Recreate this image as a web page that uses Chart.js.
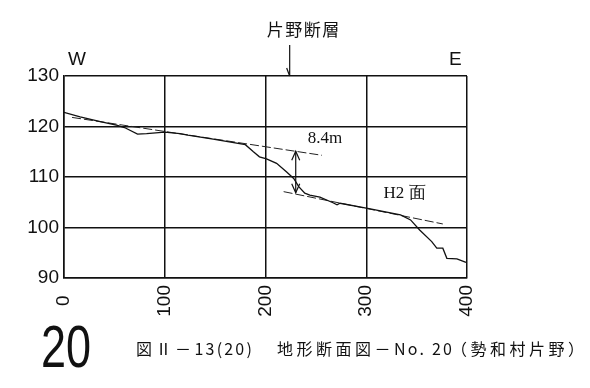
<!DOCTYPE html>
<html>
<head>
<meta charset="utf-8">
<script src="https://cdn.jsdelivr.net/npm/chart.js@4/dist/chart.umd.min.js"></script>
<style>
body { margin: 0; background: #fff; }
#wrap { position: relative; width: 590px; height: 388px; }
canvas { position: absolute; left: 0; top: 0; }
#num { position: absolute; left: 41px; top: 317px; font: 60px "Liberation Sans", sans-serif; color: #111; line-height: 1; transform: scaleX(0.75); transform-origin: left top; }
.cap { position: absolute; top: 338px; font: 16px "Noto Sans CJK JP", sans-serif; letter-spacing: 3.5px; color: #111; white-space: nowrap; line-height: 20px; }
.cap .h { letter-spacing: 2.2px; }
</style>
</head>
<body>
<div id="wrap">
  <canvas id="profileChart" width="590" height="388"></canvas>
  <div id="num">20</div>
  <div class="cap" style="left:136px">図Ⅱ－<span class="h">13(20)</span></div>
  <div class="cap" style="left:277px">地形断面図－<span class="h">No. 20</span></div>
  <div class="cap" style="left:451px">（勢和村片野）</div>
</div>
<script>
// terrain profile (distance m, elevation m)
const distance  = [0, 16, 35, 53, 60, 73, 82, 100, 115, 123, 148, 180, 188, 194, 201, 211, 221, 228, 233, 239, 244, 254, 267, 271, 274, 304, 334, 344, 353, 365, 370, 376, 380, 390, 399];
const elevation = [122.8, 121.9, 121.0, 120.2, 119.8, 118.5, 118.6, 118.9, 118.6, 118.3, 117.5, 116.4, 115.0, 114.0, 113.6, 112.7, 111.0, 109.7, 108.1, 106.8, 106.4, 106.0, 104.9, 104.5, 104.8, 103.7, 102.5, 101.5, 99.5, 97.2, 95.9, 95.9, 93.9, 93.8, 93.1];

// projected surfaces (dashed)
const upperX = [8, 256];
const upperY = [121.8, 114.3];
const lowerX = [218, 376];
const lowerY = [107.1, 100.7];

// 8.4m offset arrow
const offsetX = [230, 230];
const offsetY = [115.1, 106.9];

const faultX = 224;

const xTicks = [0, 100, 200, 300, 400];
const yTicks = [90, 100, 110, 120, 130];

const tickFont = { family: "'Liberation Sans', Arial, sans-serif", size: 19 };

const toPts = (xs, ys) => xs.map((x, i) => ({ x: x, y: ys[i] }));

function arrowHead(ctx, x, y, dir) {
    // open V head, dir = -1 points up, 1 points down
    ctx.beginPath();
    ctx.moveTo(x - 4, y - dir * 9);
    ctx.lineTo(x, y);
    ctx.lineTo(x + 4, y - dir * 9);
    ctx.stroke();
}

const extras = {
    id: "extras",
    afterDatasetsDraw(chart) {
        const ctx = chart.ctx;
        const xs = chart.scales.x, ys = chart.scales.y;
        ctx.save();
        ctx.strokeStyle = "#111";
        ctx.fillStyle = "#111";
        ctx.lineWidth = 1.2;

        // offset arrow heads
        const ax = xs.getPixelForValue(offsetX[0]);
        arrowHead(ctx, ax, ys.getPixelForValue(offsetY[0]), -1);
        arrowHead(ctx, ax, ys.getPixelForValue(offsetY[1]), 1);

        // fault arrow
        const fx = xs.getPixelForValue(faultX);
        const top = chart.chartArea.top;
        ctx.beginPath();
        ctx.moveTo(fx, 45);
        ctx.lineTo(fx, top);
        ctx.stroke();
        ctx.beginPath();
        ctx.moveTo(fx - 3, top - 8);
        ctx.lineTo(fx, top);
        ctx.stroke();

        ctx.font = "17px 'Noto Sans CJK JP', sans-serif";
        ctx.letterSpacing = "1.5px";
        ctx.textAlign = "center";
        ctx.textBaseline = "middle";
        ctx.fillText("片野断層", fx + 14, 30);
        ctx.letterSpacing = "0px";

        ctx.font = "19px 'Liberation Sans', sans-serif";
        ctx.textAlign = "left";
        ctx.fillText("W", chart.chartArea.left + 4, 60);
        ctx.fillText("E", chart.chartArea.right - 18, 60);

        ctx.font = "17px 'Liberation Serif', serif";
        ctx.textAlign = "center";
        ctx.fillText("8.4m", xs.getPixelForValue(259), ys.getPixelForValue(117.7));
        ctx.fillText("H2 面", xs.getPixelForValue(338), ys.getPixelForValue(106.8));
        ctx.restore();
    }
};

new Chart(document.getElementById("profileChart"), {
    type: "line",
    data: {
        datasets: [
            { data: toPts(distance, elevation), borderColor: "#111", borderWidth: 1.3 },
            { data: toPts(upperX, upperY), borderColor: "#222", borderWidth: 1, borderDash: [9, 3] },
            { data: toPts(lowerX, lowerY), borderColor: "#222", borderWidth: 1, borderDash: [9, 3] },
            { data: toPts(offsetX, offsetY), borderColor: "#111", borderWidth: 1.2 }
        ]
    },
    options: {
        responsive: false,
        animation: false,
        devicePixelRatio: 1,
        elements: { point: { radius: 0 }, line: { tension: 0, fill: false } },
        layout: { padding: { left: 0, top: 76, right: 123, bottom: 0 } },
        plugins: { legend: { display: false }, tooltip: { enabled: false } },
        scales: {
            x: {
                type: "linear",
                min: 0, max: 400,
                afterBuildTicks: s => { s.ticks = xTicks.map(v => ({ value: v })); },
                afterFit: s => { s.height = 110; },
                grid: { color: "#111", lineWidth: 1.5, drawTicks: false },
                border: { color: "#111", width: 1.5 },
                // trailing spaces keep the short "0" centred like the 3-digit labels
                ticks: {
                    color: "#111", font: tickFont, minRotation: 90, maxRotation: 90, padding: 7,
                    callback: v => (v === 0 ? "0  " : String(v))
                }
            },
            y: {
                min: 90, max: 130,
                afterBuildTicks: s => { s.ticks = yTicks.map(v => ({ value: v })); },
                afterFit: s => { s.width = 64; },
                grid: { color: "#111", lineWidth: 1.5, drawTicks: false },
                border: { color: "#111", width: 1.5 },
                ticks: { color: "#111", font: tickFont, padding: 5 }
            }
        }
    },
    plugins: [extras]
});
</script>
</body>
</html>
